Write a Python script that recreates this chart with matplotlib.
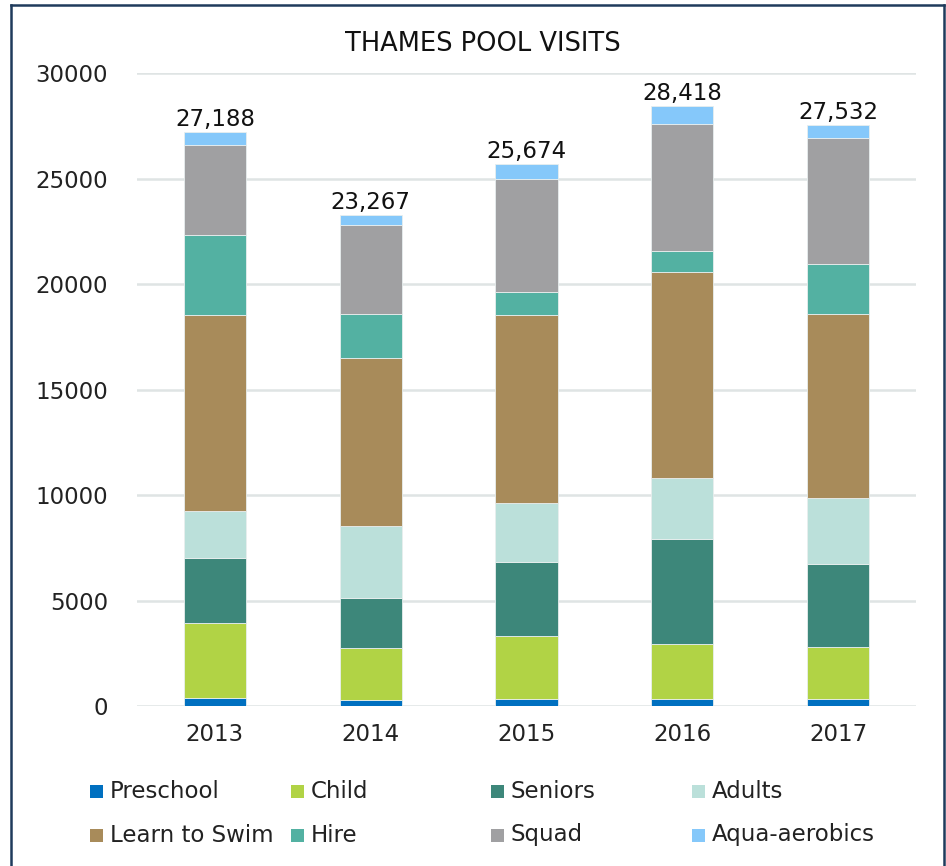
import matplotlib
matplotlib.use("Agg")
import matplotlib.pyplot as plt
from matplotlib.patches import Rectangle
from matplotlib.lines import Line2D
import numpy as np

years = ["2013", "2014", "2015", "2016", "2017"]
series_names = ["Preschool", "Child", "Seniors", "Adults",
                "Learn to Swim", "Hire", "Squad", "Aqua-aerobics"]
preschool = [375, 281, 319, 337, 319]
child = [3542, 2474, 2998, 2586, 2492]
seniors = [3092, 2361, 3523, 4985, 3917]
adults = [2211, 3411, 2774, 2905, 3111]
learn_to_swim = [9314, 7945, 8920, 9764, 8751]
hire = [3804, 2118, 1087, 993, 2361]
squad = [4254, 4217, 5359, 6015, 5978]
aqua_aerobics = [596, 460, 694, 833, 603]
y_ticks = [0, 5000, 10000, 15000, 20000, 25000, 30000]

colors = ["#0070c0", "#b1d345", "#3d877a", "#bbe0da",
          "#a88b5a", "#53b1a2", "#a0a0a2", "#85c8fa"]

series = [preschool, child, seniors, adults, learn_to_swim, hire, squad, aqua_aerobics]

plt.rcParams["font.family"] = ["DejaVu Sans"]

W, H = 946, 866
FS = 16.5
fig = plt.figure(figsize=(W / 100, H / 100), dpi=100)
ax = fig.add_axes([137 / W, 1 - 706 / H, (916 - 137) / W, (706 - 73) / H])

x = np.arange(len(years))
bottom = np.zeros(len(years))
for vals, c in zip(series, colors):
    ax.bar(x, vals, width=0.4, bottom=bottom, color=c, edgecolor="#e8eeee",
           linewidth=0.6, zorder=3)
    bottom += np.array(vals)

for xi, tot in zip(x, bottom):
    ax.annotate(f"{int(tot):,}", (xi, tot), xytext=(0, 1), textcoords="offset points",
                ha="center", va="bottom", fontsize=FS, color="#111111")

ax.set_xlim(-0.5, len(years) - 0.5)
ax.set_ylim(0, 30000)
ax.set_yticks(y_ticks)
ax.set_yticklabels([str(t) for t in y_ticks], fontsize=FS, color="#222222")
ax.set_xticks(x)
ax.set_xticklabels(years, fontsize=FS, color="#222222")
ax.tick_params(axis="both", length=0)
ax.tick_params(axis="y", pad=21)
ax.tick_params(axis="x", pad=12)
ax.grid(axis="y", color="#dfe4e4", linewidth=1.8, zorder=0)
for s in ax.spines.values():
    s.set_visible(False)
ax.set_facecolor("none")

fig.text(483 / W, 1 - 44 / H, "THAMES POOL VISITS", ha="center", va="center",
         fontsize=18.5, color="#111111")

# legend drawn as a 4-column grid
col_x = [90, 291, 491, 692]
row_y = [791, 835]
for i, (name, c) in enumerate(zip(series_names, colors)):
    cx = col_x[i % 4]
    cy = row_y[i // 4]
    fig.patches.append(Rectangle((cx / W, 1 - (cy + 6.5) / H), 13 / W, 13 / H,
                                 transform=fig.transFigure, facecolor=c,
                                 edgecolor="none"))
    fig.text((cx + 20) / W, 1 - cy / H, name, ha="left", va="center",
             fontsize=FS, color="#222222")

# frame around the chart
border = "#1f3b5c"
for xs, ys in [([11, 11], [866, 5]), ([11, 944], [5, 5]), ([944, 944], [5, 866])]:
    fig.lines.append(Line2D([v / W for v in xs], [1 - v / H for v in ys],
                            transform=fig.transFigure, color=border, linewidth=1.8))

fig.savefig("out.png", dpi=100, facecolor="white")
